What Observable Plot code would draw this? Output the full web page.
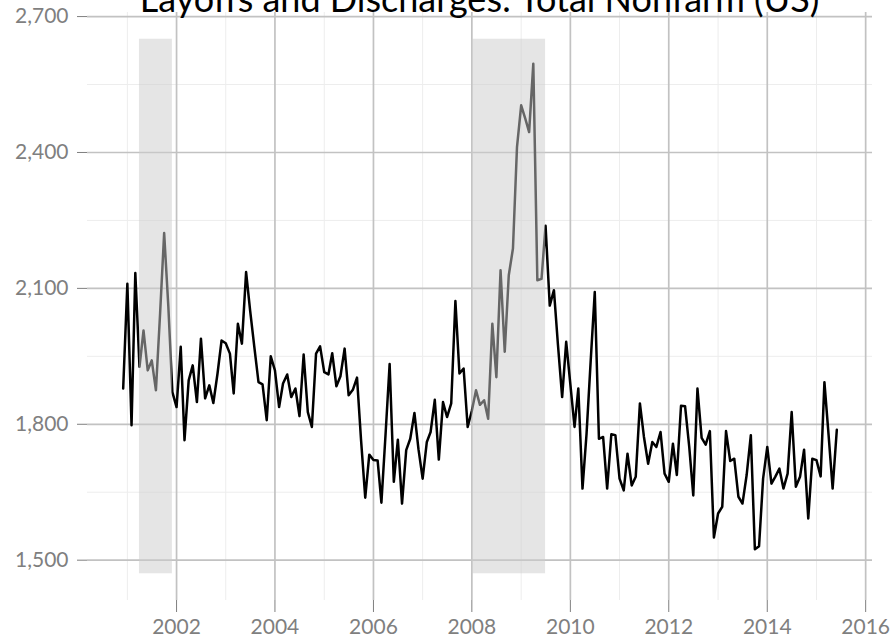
<!DOCTYPE html>
<html><head><meta charset="utf-8">
<script src="https://cdn.jsdelivr.net/npm/d3@7"></script>
<script src="https://cdn.jsdelivr.net/npm/@observablehq/plot@0.6"></script>
<style>
html,body{margin:0;padding:0;background:#fff;}
#chart svg{display:block;}
</style></head><body><div id="chart"></div>
<script>
// Monthly series, first value = December 2000 (thousands)
const startYear = 2000;
const startMonth = 12;
const layoffs = [
  1879, 2110, 1798, 2134, 1927, 2007, 1919, 1941, 1875, 2045, 2222, 2060, 1871,
  1838, 1971, 1765, 1897, 1930, 1849, 1989, 1857, 1886, 1847, 1912, 1985,
  1979, 1956, 1868, 2022, 1978, 2136, 2051, 1971, 1893, 1888, 1809, 1950,
  1919, 1838, 1890, 1910, 1860, 1879, 1818, 1954, 1827, 1794, 1956, 1972,
  1915, 1910, 1957, 1884, 1906, 1967, 1864, 1876, 1903, 1765, 1638, 1733,
  1721, 1720, 1627, 1779, 1933, 1673, 1766, 1625, 1743, 1768, 1825, 1745,
  1680, 1761, 1783, 1854, 1722, 1849, 1816, 1846, 2072, 1912, 1923, 1794,
  1830, 1875, 1843, 1853, 1812, 2022, 1904, 2140, 1960, 2129, 2188, 2412,
  2504, 2474, 2445, 2596, 2118, 2121, 2238, 2062, 2096, 1975, 1860, 1982,
  1888, 1794, 1879, 1658, 1779, 1941, 2092, 1768, 1772, 1658, 1778, 1776,
  1680, 1654, 1735, 1665, 1684, 1846, 1772, 1713, 1761, 1750, 1783, 1691,
  1673, 1757, 1688, 1841, 1840, 1750, 1643, 1879, 1770, 1755, 1785, 1550,
  1603, 1618, 1785, 1719, 1724, 1640, 1625, 1688, 1776, 1524, 1531, 1680,
  1750, 1669, 1684, 1702, 1658, 1691, 1827, 1662, 1684, 1744, 1592, 1724,
  1721, 1685, 1893, 1776, 1658, 1788
];
const recessionStart = ["2001-04-01", "2008-01-01"];
const recessionEnd = ["2001-12-01", "2009-07-01"];
const recessionLow = 1470;
const recessionHigh = 2650;
const yMajorTicks = [1500, 1800, 2100, 2400, 2700];
const yMinorTicks = [1650, 1950, 2250, 2550];
const xMajorYears = [2002, 2004, 2006, 2008, 2010, 2012, 2014, 2016];
const xMinorYears = [2001, 2003, 2005, 2007, 2009, 2011, 2013, 2015];
const titleText = "Layoffs and Discharges: Total Nonfarm (US)";

const data = layoffs.map((v, i) => ({
  date: new Date(Date.UTC(startYear, startMonth - 1 + i, 1)),
  value: v
}));
const recessions = recessionStart.map((s, i) => ({
  x1: new Date(s), x2: new Date(recessionEnd[i]), y1: recessionLow, y2: recessionHigh
}));
const xMajor = xMajorYears.map(y => new Date(Date.UTC(y, 0, 1)));
const xMinor = xMinorYears.map(y => new Date(Date.UTC(y, 0, 1)));

const [d0, d1] = d3.extent(data, d => d.date);
const xp = (d1 - d0) * 0.05;
const xDomain = [new Date(+d0 - xp), new Date(+d1 + xp)];
const yp = (recessionHigh - recessionLow) * 0.05;
const yDomain = [recessionLow - yp, recessionHigh + yp];

const ML = 87, MR = 19, W = 891;
const axisColor = "#7f7f7f";

const chart = Plot.plot({
  width: W, height: 643,
  marginLeft: ML, marginRight: MR, marginTop: 12, marginBottom: 43,
  style: {fontFamily: "Lato, sans-serif", background: "#fff"},
  x: {type: "utc", domain: xDomain},
  y: {domain: yDomain},
  marks: [
    Plot.ruleX(xMinor, {stroke: "#ededed", strokeWidth: 1}),
    Plot.ruleY(yMinorTicks, {stroke: "#ededed", strokeWidth: 1}),
    Plot.ruleX(xMajor, {stroke: "#c2c2c2", strokeWidth: 1.7}),
    Plot.ruleY(yMajorTicks, {stroke: "#c2c2c2", strokeWidth: 1.7}),
    Plot.line(data, {x: "date", y: "value", stroke: "#000", strokeWidth: 2.5}),
    Plot.rect(recessions, {x1: "x1", x2: "x2", y1: "y1", y2: "y2", fill: "rgb(204,204,204)", fillOpacity: 0.5}),
    Plot.axisY(yMajorTicks, {tickFormat: d3.format(","), tickSize: 10, tickPadding: 9, fontSize: 21, color: axisColor, label: null}),
    Plot.axisX(xMajor, {tickFormat: d3.utcFormat("%Y"), tickSize: 12, tickPadding: 7, fontSize: 21, color: axisColor, label: null})
  ]
});

d3.select(chart).append("text")
  .attr("x", (ML + W - MR) / 2)
  .attr("y", 12)
  .attr("text-anchor", "middle")
  .attr("font-family", "Lato, sans-serif")
  .attr("font-size", 36)
  .attr("fill", "#000")
  .text(titleText);

document.getElementById("chart").appendChild(chart);
</script>
</body></html>
